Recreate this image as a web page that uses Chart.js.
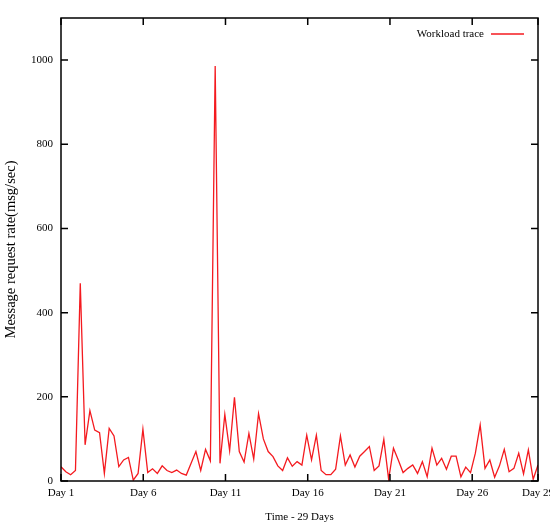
<!DOCTYPE html>
<html>
<head>
<meta charset="utf-8">
<script src="https://cdn.jsdelivr.net/npm/chart.js@4/dist/chart.umd.min.js"></script>
<style>
  html, body { margin: 0; padding: 0; background: #fff; overflow: hidden; }
  canvas { display: block; }
</style>
</head>
<body>
<canvas id="traceChart" width="550" height="526"></canvas>
<script>
// message request rate samples (msg/sec), spread over 29 days
var requestRate = [
    34, 22, 15, 25, 470, 86, 167, 121, 115, 18,
    125, 107, 34, 50, 56, 2, 18, 123, 20, 29,
    18, 36, 25, 20, 26, 18, 14, 42, 70, 25,
    75, 48, 986, 42, 158, 72, 199, 70, 45, 113,
    52, 160, 100, 70, 58, 36, 25, 55, 35, 46,
    38, 109, 50, 109, 25, 15, 15, 28, 107, 38,
    62, 33, 59, 70, 82, 25, 36, 99, 4, 78,
    50, 20, 30, 38, 18, 46, 10, 78, 38, 54,
    28, 59, 59, 10, 33, 20, 66, 133, 30, 50,
    9, 36, 75, 22, 30, 66, 17, 74, 4, 38
];
var totalDays = 29;
var xTickValues = [0, 5, 10, 15, 20, 25, 29];
var xTickLabels = ['Day 1', 'Day 6', 'Day 11', 'Day 16', 'Day 21', 'Day 26', 'Day 29'];
var yTickValues = [0, 200, 400, 600, 800, 1000];
var yTickLabels = ['0', '200', '400', '600', '800', '1000'];
var seriesName = 'Workload trace';

var serif = '"Liberation Serif", "Times New Roman", serif';

document.addEventListener("DOMContentLoaded", function() {
    createTraceChart();
});

// gnuplot style frame: border, inward ticks on all four sides, key at top right
var gnuplotFrame = {
    id: 'gnuplotFrame',
    afterDatasetsDraw: function(chart) {
        var ctx = chart.ctx;
        var area = chart.chartArea;
        var xs = chart.scales.x;
        var ys = chart.scales.y;
        var tick = 7;
        ctx.save();
        ctx.strokeStyle = '#000';
        ctx.lineWidth = 1.5;
        ctx.strokeRect(area.left, area.top, area.right - area.left, area.bottom - area.top);
        ctx.beginPath();
        xTickValues.forEach(function(v) {
            var px = xs.getPixelForValue(v);
            ctx.moveTo(px, area.bottom);
            ctx.lineTo(px, area.bottom - tick);
            ctx.moveTo(px, area.top);
            ctx.lineTo(px, area.top + tick);
        });
        yTickValues.forEach(function(v) {
            var py = ys.getPixelForValue(v);
            ctx.moveTo(area.left, py);
            ctx.lineTo(area.left + tick, py);
            ctx.moveTo(area.right, py);
            ctx.lineTo(area.right - tick, py);
        });
        ctx.stroke();

        // key
        var ky = area.top + 16;
        ctx.font = '11px ' + serif;
        ctx.fillStyle = '#000';
        ctx.textAlign = 'right';
        ctx.textBaseline = 'middle';
        ctx.fillText(seriesName, area.right - 54, ky);
        ctx.strokeStyle = chart.data.datasets[0].borderColor;
        ctx.lineWidth = 1.3;
        ctx.beginPath();
        ctx.moveTo(area.right - 47, ky);
        ctx.lineTo(area.right - 14, ky);
        ctx.stroke();
        ctx.restore();
    }
};

function createTraceChart() {
    var points = requestRate.map(function(v, i) {
        return { x: i * totalDays / (requestRate.length - 1), y: v };
    });
    var ctx = document.getElementById('traceChart').getContext('2d');
    var traceChart = new Chart(ctx, {
        type: 'line',
        data: {
            datasets: [{
                label: seriesName,
                data: points,
                borderColor: '#f41a1f',
                borderWidth: 1.3,
                pointRadius: 0,
                fill: false,
                tension: 0
            }]
        },
        options: {
            responsive: false,
            animation: false,
            layout: { padding: { top: 18, right: 0, bottom: 0, left: 0 } },
            plugins: {
                legend: { display: false },
                tooltip: { enabled: false }
            },
            scales: {
                x: {
                    type: 'linear',
                    min: 0,
                    max: totalDays,
                    afterBuildTicks: function(scale) {
                        scale.ticks = xTickValues.map(function(v) { return { value: v }; });
                    },
                    afterFit: function(scale) {
                        scale.height = 45;
                        scale.paddingLeft = 0;
                        scale.paddingRight = 12;
                    },
                    ticks: {
                        callback: function(value, index) { return xTickLabels[index]; },
                        font: { family: serif, size: 11 },
                        color: '#000',
                        padding: 6,
                        maxRotation: 0,
                        autoSkip: false
                    },
                    grid: { display: false, drawTicks: false },
                    border: { display: false },
                    title: {
                        display: true,
                        text: 'Time - 29 Days',
                        font: { family: serif, size: 11 },
                        color: '#000',
                        padding: { top: 0, bottom: 2 }
                    }
                },
                y: {
                    min: 0,
                    max: 1100,
                    afterBuildTicks: function(scale) {
                        scale.ticks = yTickValues.map(function(v) { return { value: v }; });
                    },
                    afterFit: function(scale) {
                        scale.width = 61;
                    },
                    ticks: {
                        callback: function(value, index) { return yTickLabels[index]; },
                        font: { family: serif, size: 11 },
                        color: '#000',
                        padding: 8
                    },
                    grid: { display: false, drawTicks: false },
                    border: { display: false },
                    title: {
                        display: true,
                        text: 'Message request rate(msg/sec)',
                        font: { family: serif, size: 14.5 },
                        color: '#000',
                        padding: { top: 2, bottom: 0 }
                    }
                }
            }
        },
        plugins: [gnuplotFrame]
    });
}
</script>
</body>
</html>
